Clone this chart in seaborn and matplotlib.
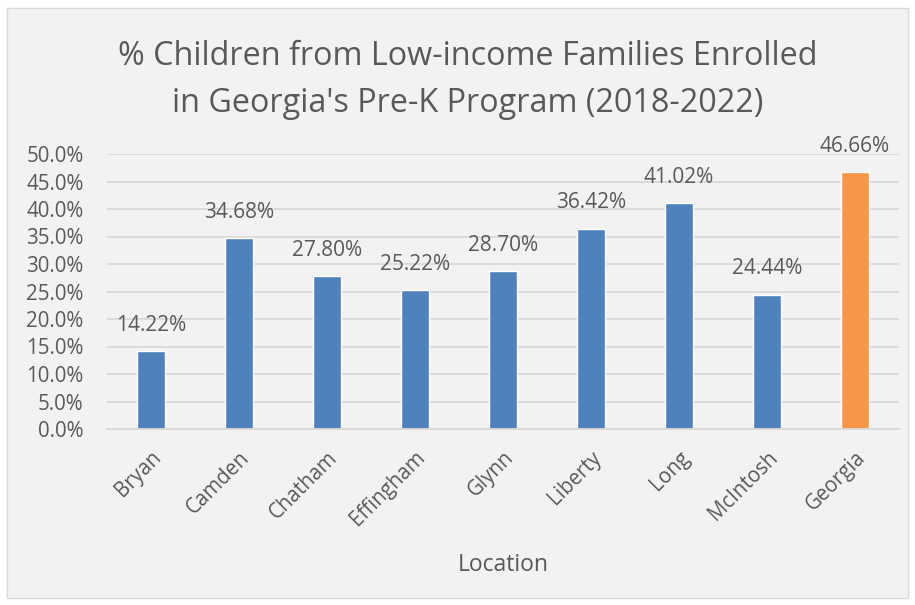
import matplotlib
matplotlib.use("Agg")
import matplotlib.pyplot as plt
import matplotlib.patches as mpatches
from matplotlib.ticker import FuncFormatter
import seaborn as sns
import pandas as pd

locations = ["Bryan", "Camden", "Chatham", "Effingham", "Glynn",
             "Liberty", "Long", "McIntosh", "Georgia"]
enrolled_pct = [14.22, 34.68, 27.80, 25.22, 28.70, 36.42, 41.02, 24.44, 46.66]
y_ticks = [0, 5, 10, 15, 20, 25, 30, 35, 40, 45, 50]

BLUE = "#4F81BD"
ORANGE = "#F79646"
TEXT = "#595959"
GRID = "#D9D9D9"
PANEL = "#F2F2F2"

sns.set_theme(style="white")
plt.rcParams["font.family"] = ["Open Sans", "DejaVu Sans"]

df = pd.DataFrame({"Location": locations, "Pct": enrolled_pct})
palette = {loc: (ORANGE if loc == "Georgia" else BLUE) for loc in locations}

W, H = 915, 605
fig = plt.figure(figsize=(W / 100, H / 100), dpi=100, facecolor="white")
fig.patches.append(mpatches.Rectangle((7 / W, 1 - 598 / H), 901 / W, 590 / H,
                                      transform=fig.transFigure,
                                      facecolor=PANEL, edgecolor="#D9D9D9",
                                      linewidth=1, zorder=-5))

ax = fig.add_axes([107 / W, 1 - 429 / H, 792 / W, 275 / H])
ax.set_facecolor("none")

sns.barplot(data=df, x="Location", y="Pct", hue="Location", palette=palette,
            legend=False, width=0.32, saturation=1, ax=ax, zorder=3)

ax.set_ylim(0, 50)
ax.set_xlim(-0.5, len(locations) - 0.5)
ax.set_yticks(y_ticks)
ax.yaxis.set_major_formatter(FuncFormatter(lambda v, _: f"{v:.1f}%"))
ax.grid(axis="y", color=GRID, linewidth=1.3, zorder=0)
ax.grid(axis="x", visible=False)
for s in ["top", "right", "left"]:
    ax.spines[s].set_visible(False)
ax.spines["bottom"].set_color(GRID)
ax.spines["bottom"].set_linewidth(1.3)
ax.spines["bottom"].set_zorder(4)

ax.tick_params(axis="y", length=0, pad=17, labelsize=14.8, labelcolor=TEXT)
ax.tick_params(axis="x", length=0, pad=13, labelsize=14.8, labelcolor=TEXT)
for lbl in ax.get_xticklabels():
    lbl.set_rotation(45)
    lbl.set_ha("right")
    lbl.set_va("top")
    lbl.set_rotation_mode("anchor")

for cont in ax.containers:
    ax.bar_label(cont, fmt="%.2f%%", padding=11, fontsize=15, color=TEXT)

ax.set_xlabel("Location", fontsize=16.5, color=TEXT, labelpad=16)
ax.set_ylabel("")

fig.text(468 / W, 1 - 80 / H,
         "% Children from Low-income Families Enrolled\nin Georgia's Pre-K Program (2018-2022)",
         ha="center", va="center", fontsize=23.3, color=TEXT, linespacing=1.55)

fig.savefig("out.png", dpi=100, facecolor="white")
